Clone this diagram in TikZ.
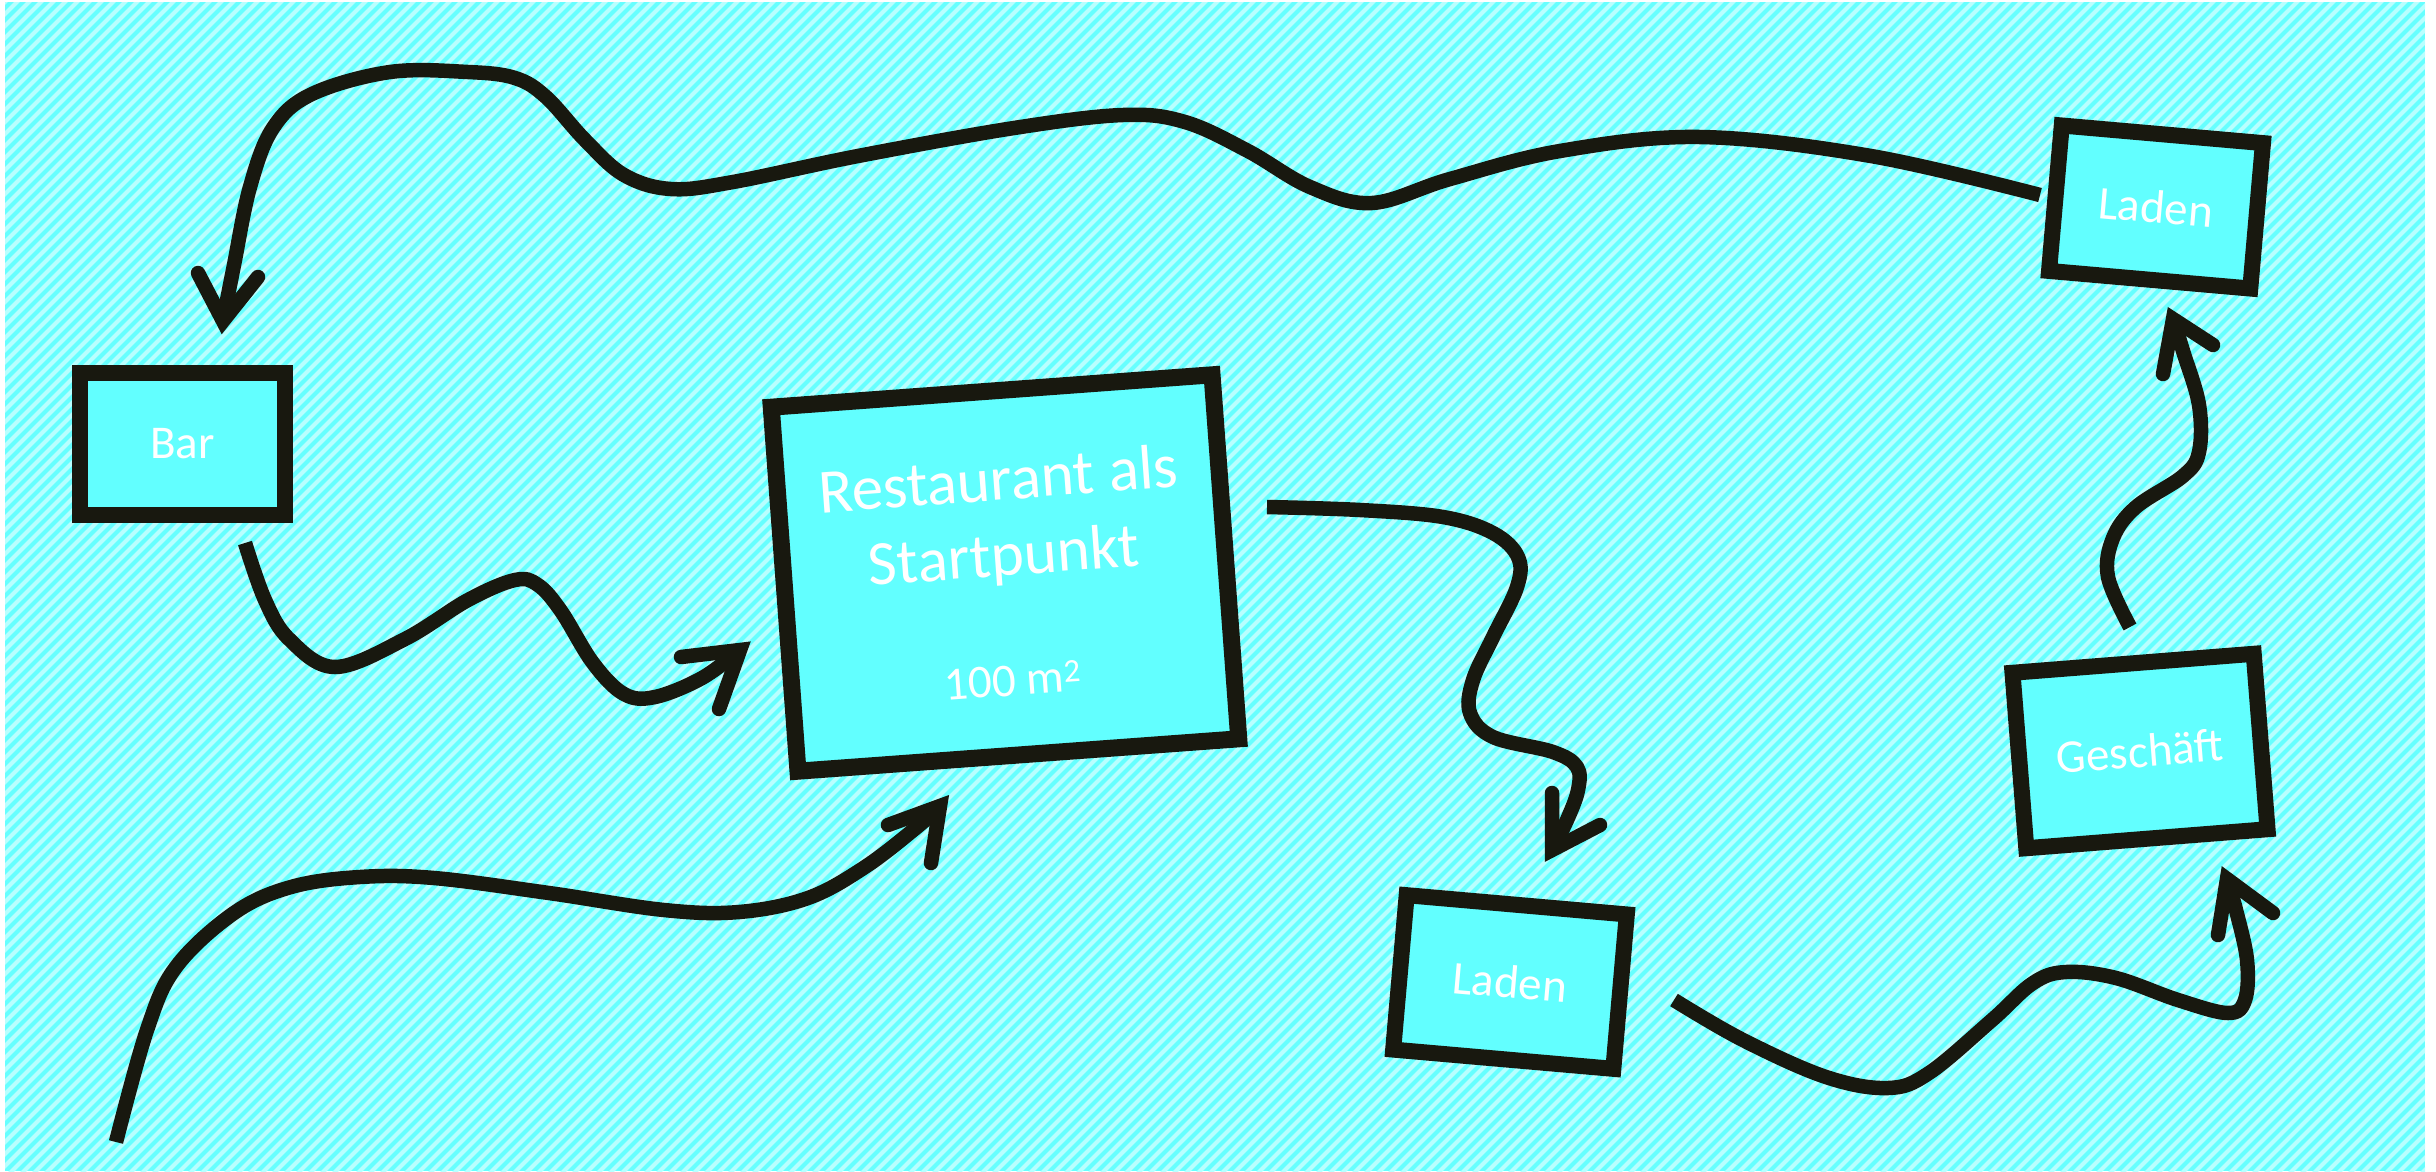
\documentclass[tikz,border=0pt]{standalone}
\usepackage{fontspec}
\setmainfont{Carlito}
\definecolor{ink}{HTML}{18180F}
\definecolor{cyanbg}{HTML}{66FFFF}
\definecolor{stripe}{HTML}{B8FFFF}
\definecolor{boxfill}{HTML}{62FFFF}
\begin{document}
\begin{tikzpicture}[x=1pt,y=-1pt,
  room/.style={draw=ink, fill=boxfill, line width=16pt, inner sep=0pt, text=white, font=\fontsize{47}{56}\selectfont},
  txt/.style={text=white, inner sep=0pt},
  wire/.style={draw=ink, line width=14.5pt, line cap=butt, line join=round},
  tipstyle/.style={draw=ink, line width=14.5pt, line cap=round, line join=miter, miter limit=20}]
\useasboundingbox (0,0) rectangle (2436,1171);
\fill[white] (0,0) rectangle (2436,1171);
\begin{scope}
\clip (5,2) rectangle (2425,1171);
\fill[cyanbg] (5,2) rectangle (2425,1171);
\foreach \i in {-1180,-1168,...,2430} \draw[stripe, line width=4pt] (\i,1175) -- ++(1180,-1180);
\end{scope}

% rooms
\node[room, minimum width=205pt, minimum height=142pt] (bar) at (182.5,444) {Bar};
\node[room, line width=17pt, minimum width=442pt, minimum height=365pt, rotate=4.2] (rest) at (1005,573) {};
\node[room, minimum width=202pt, minimum height=146pt, rotate=-5] (ladenT) at (2156,207) {Laden};
\node[room, minimum width=221pt, minimum height=155pt, rotate=-5] (ladenB) at (1510,982) {Laden};
\node[room, minimum width=242pt, minimum height=176pt, rotate=4.5] (gesch) at (2140,751) {Geschäft};

\begin{scope}[shift={(rest.center)}, rotate=4.2]
\node[txt, rotate=4.2, align=center, font=\fontsize{63}{76}\selectfont] (r1) at (0,-52) {Restaurant als\\Startpunkt};
\node[txt, rotate=4.2, anchor=base, font=\fontsize{47}{56}\selectfont] (r3) at (0,123) {100 m\textsuperscript{2}};
\end{scope}

% connector coordinates
\coordinate (a0) at (2040,195); \coordinate (a1) at (223,321);
\coordinate (b0) at (245,543);  \coordinate (b1) at (740,650);
\coordinate (c0) at (116,1142); \coordinate (c1) at (940,806);
\coordinate (d0) at (1267,507); \coordinate (d1) at (1552,850);
\coordinate (e0) at (1674,1000);\coordinate (e1) at (2227,879);
\coordinate (f0) at (2130,627); \coordinate (f1) at (2173,319);

% Laden (top) -> Bar
\draw[wire] plot[smooth, tension=0.6] coordinates {(a0) (1871,156) (1700,137) (1560,151) (1450,179) (1372,203) (1310,187) (1248,151) (1185,122) (1123,115) (1014,128) (858,156) (733,182) (671,189) (624,175) (585,140) (546,97) (515,78) (468,72) (390,72) (312,94) (273,128) (250,187) (234,265) (a1)};
\draw[tipstyle] (198,273) -- (a1) -- (258,277);

% Bar -> Restaurant
\draw[wire] plot[smooth, tension=0.6] coordinates {(b0) (265,600) (289,639) (335,667) (405,639) (468,600) (515,580) (538,585) (561,611) (593,663) (624,694) (655,697) (702,678) (b1)};
\draw[tipstyle] (681,657) -- (b1) -- (719,709);

% start -> Restaurant
\draw[wire] plot[smooth, tension=0.6] coordinates {(c0) (147,1030) (176,967) (234,913) (291,887) (360,877) (434,878) (549,893) (664,910) (739,912) (808,898) (865,867) (917,827) (c1)};
\draw[tipstyle] (888,825) -- (c1) -- (931,863);

% Restaurant -> Laden (bottom)
\draw[wire] plot[smooth, tension=0.6] coordinates {(d0) (1360,510) (1443,517) (1493,533) (1518,557) (1517,587) (1493,637) (1473,680) (1470,713) (1493,737) (1553,752) (1577,767) (1578,790) (1567,820) (d1)};
\draw[tipstyle] (1552,793) -- (d1) -- (1600,825);

% Laden (bottom) -> Geschaeft
\draw[wire] plot[smooth, tension=0.6] coordinates {(e0) (1743,1040) (1826,1077) (1888,1088) (1929,1073) (1992,1020) (2033,983) (2066,972) (2116,978) (2178,1000) (2228,1013) (2245,1000) (2247,960) (2236,910) (e1)};
\draw[tipstyle] (2218,935) -- (e1) -- (2273,913);

% Geschaeft -> Laden (top)
\draw[wire] plot[smooth, tension=0.6] coordinates {(f0) (2108,577) (2113,538) (2136,507) (2183,476) (2199,452) (2199,405) (2183,351) (f1)};
\draw[tipstyle] (2163,374) -- (f1) -- (2213,345);
\end{tikzpicture}
\end{document}
